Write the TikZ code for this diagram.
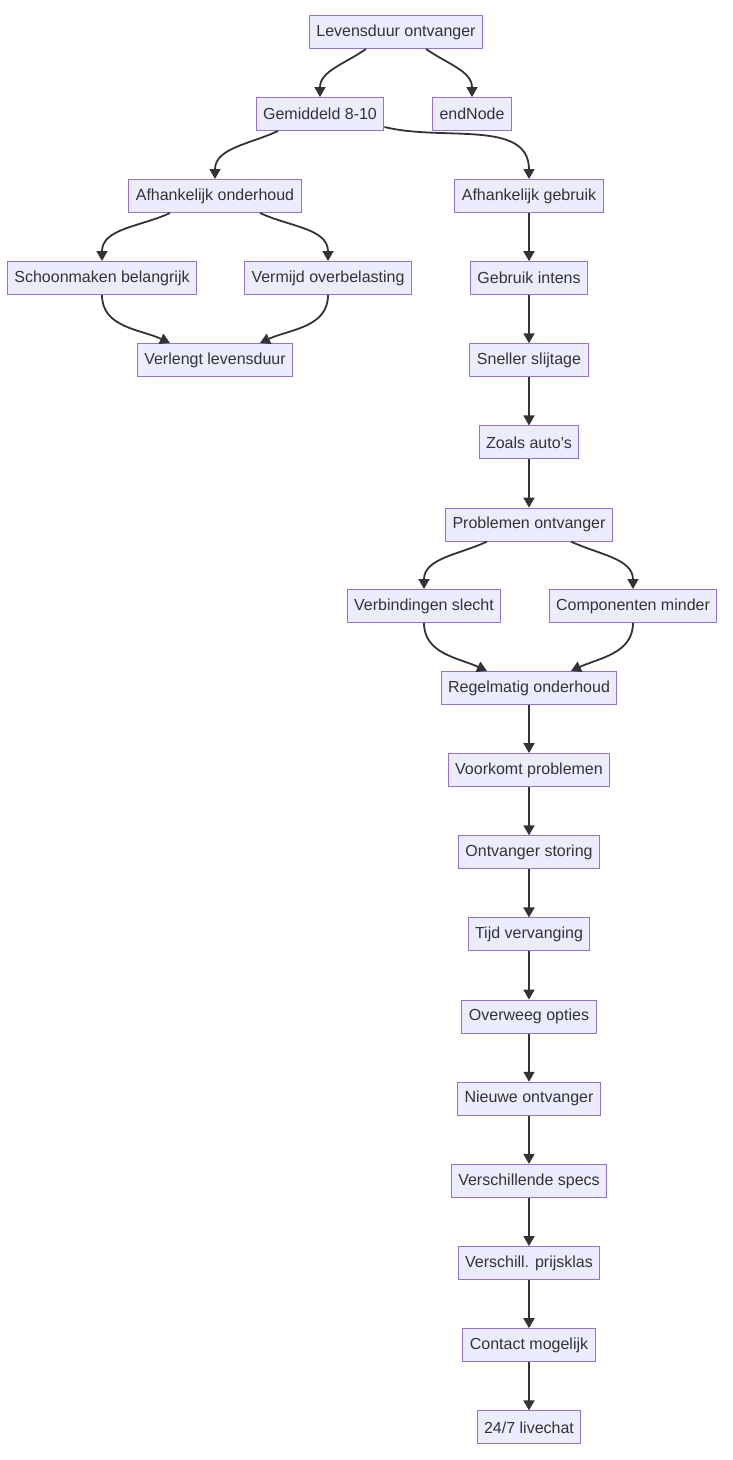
\documentclass[tikz,border=0pt]{standalone}
\usepackage{fontspec}
\setmainfont{Liberation Sans}
\usepackage{xcolor}
\usetikzlibrary{positioning,arrows.meta}

\definecolor{boxfill}{HTML}{ECECFF}
\definecolor{boxline}{HTML}{9370DB}
\definecolor{ink}{HTML}{333333}

\tikzset{
    box/.style={rectangle, draw=boxline, fill=boxfill, line width=1pt, text=ink, inner xsep=7pt, minimum height=33pt, font=\fontsize{16}{19}\selectfont},
    arr/.style={draw=ink, line width=1.8pt, -{Triangle[length=10pt,width=11pt]}}
}

\begin{document}
\begin{tikzpicture}[x=1pt,y=-1pt, node distance=82.15pt, on grid]
    \useasboundingbox (0,0) rectangle (733,1460);

    % top part
    \node(lev) [box] at (396,32) {Levensduur ontvanger};
    \node(gem) [box] at (320,114) {Gemiddeld 8-10};
    \node(endnode) [box] at (472,114) {endNode};
    \node(afhond) [box] at (215,196) {Afhankelijk onderhoud};
    \node(afhgeb) [box] at (529,196) {Afhankelijk gebruik};
    \node(schoon) [box] at (102,278) {Schoonmaken belangrijk};
    \node(vermijd) [box] at (328,278) {Vermijd overbelasting};
    \node(verlengt) [box] at (215,360) {Verlengt levensduur};

    % right column
    \node(intens) [box, below=of afhgeb] {Gebruik intens};
    \node(slijt) [box, below=of intens] {Sneller slijtage};
    \node(autos) [box, below=of slijt] {Zoals auto's};
    \node(probl) [box, below=of autos] {Problemen ontvanger};
    \node(verb) [box] at (424,606) {Verbindingen slecht};
    \node(comp) [box] at (633,606) {Componenten minder};
    \node(regel) [box] at (529,688) {Regelmatig onderhoud};
    \node(voork) [box, below=of regel] {Voorkomt problemen};
    \node(storing) [box, below=of voork] {Ontvanger storing};
    \node(tijd) [box, below=of storing] {Tijd vervanging};
    \node(opties) [box, below=of tijd] {Overweeg opties};
    \node(nieuw) [box, below=of opties] {Nieuwe ontvanger};
    \node(specs) [box, below=of nieuw] {Verschillende specs};
    \node(prijs) [box, below=of specs] {Verschill. prijsklas};
    \node(contact) [box, below=of prijs] {Contact mogelijk};
    \node(chat) [box, below=of contact] {24/7 livechat};

    % curved connectors
    \draw[arr] ([xshift=-30pt]lev.south) to[out=-145,in=90] (gem.north);
    \draw[arr] ([xshift=30pt]lev.south) to[out=-35,in=90] (endnode.north);
    \draw[arr] ([xshift=-42pt]gem.south) to[out=-155,in=90] (afhond.north);
    \draw[arr] ([yshift=4pt]gem.south east) to[out=-14,in=90] (afhgeb.north);
    \draw[arr] ([xshift=-45pt]afhond.south) to[out=-155,in=90] (schoon.north);
    \draw[arr] ([xshift=45pt]afhond.south) to[out=-25,in=90] (vermijd.north);
    \draw[arr] (schoon.south) to[out=-90,in=155] ([xshift=-45pt]verlengt.north);
    \draw[arr] (vermijd.south) to[out=-90,in=25] ([xshift=45pt]verlengt.north);
    \draw[arr] ([xshift=-42pt]probl.south) to[out=-155,in=90] (verb.north);
    \draw[arr] ([xshift=42pt]probl.south) to[out=-25,in=90] (comp.north);
    \draw[arr] (verb.south) to[out=-90,in=155] ([xshift=-42pt]regel.north);
    \draw[arr] (comp.south) to[out=-90,in=25] ([xshift=42pt]regel.north);

    % straight connectors
    \foreach \a/\b in {afhgeb/intens, intens/slijt, slijt/autos, autos/probl, regel/voork, voork/storing, storing/tijd, tijd/opties, opties/nieuw, nieuw/specs, specs/prijs, prijs/contact, contact/chat}
        \draw[arr] (\a) -- (\b);
\end{tikzpicture}
\end{document}
